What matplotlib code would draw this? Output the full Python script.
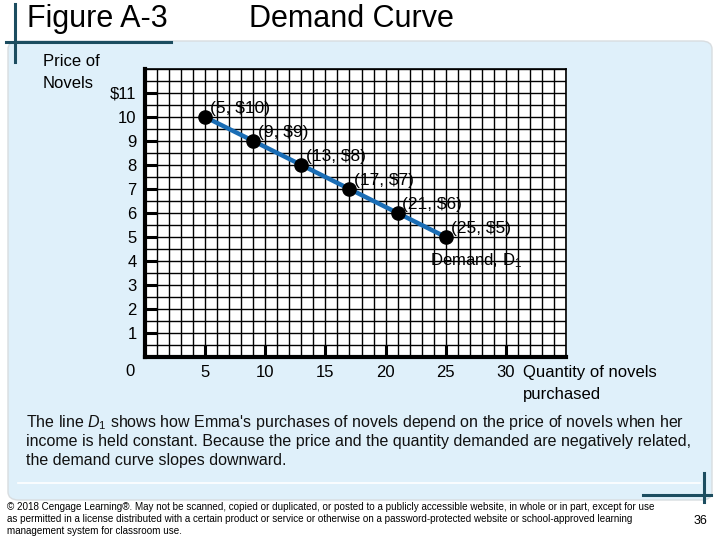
import numpy as np
import matplotlib.pyplot as plt
from matplotlib.patches import FancyBboxPatch
from matplotlib.lines import Line2D

plt.rcParams['font.family'] = ['Liberation Sans', 'DejaVu Sans']
plt.rcParams['mathtext.fontset'] = 'custom'
plt.rcParams['mathtext.rm'] = 'Liberation Sans'
plt.rcParams['mathtext.it'] = 'Liberation Sans:italic'

# data
quantity = [5, 9, 13, 17, 21, 25]
price = [10, 9, 8, 7, 6, 5]
point_labels = ['(5, $10)', '(9, $9)', '(13, $8)', '(17, $7)', '(21, $6)', '(25, $5)']
x_ticks = [5, 10, 15, 20, 25, 30]
y_ticks = [1, 2, 3, 4, 5, 6, 7, 8, 9, 10, 11]
y_ticklabels = ['1', '2', '3', '4', '5', '6', '7', '8', '9', '10', '$11']

W, H = 720, 540
fig = plt.figure(figsize=(7.2, 5.4), dpi=100)
fig.patch.set_facecolor('white')

def fx(px):
    return px / W

def fy(py):
    return 1 - py / H

# light blue panel
panel = FancyBboxPatch((fx(8), fy(500)), fx(704), fy(41) - fy(500),
                       boxstyle='round,pad=0,rounding_size=0.015',
                       transform=fig.transFigure, facecolor='#dff0fa',
                       edgecolor='#d8dde0', linewidth=1.0, zorder=-10)
fig.patches.append(panel)
fig.add_artist(Line2D([fx(18), fx(700)], [fy(483), fy(483)], color='white', lw=1.2, zorder=-5))

teal = '#1c4d60'
fig.add_artist(Line2D([fx(15), fx(15)], [fy(4), fy(62)], color=teal, lw=2.2))
fig.add_artist(Line2D([fx(6), fx(171)], [fy(42), fy(42)], color=teal, lw=2.2))
fig.add_artist(Line2D([fx(643), fx(711)], [fy(495), fy(495)], color=teal, lw=2.2))
fig.add_artist(Line2D([fx(704), fx(704)], [fy(473), fy(502)], color=teal, lw=2.2))

fig.text(fx(27), fy(19), 'Figure A-3', fontsize=22, va='center', ha='left')
fig.text(fx(351), fy(19), 'Demand Curve', fontsize=22, va='center', ha='center')

# chart axes
ax = fig.add_axes([fx(145), fy(357), fx(566) - fx(145), fy(69) - fy(357)], zorder=2)
ax.set_facecolor('white')
ax.set_xlim(0, 35)
ax.set_ylim(0, 12)
ax.set_xticks(np.arange(0, 36, 1), minor=True)
ax.set_yticks(np.arange(0, 12.5, 0.5), minor=True)
ax.set_xticks(x_ticks)
ax.set_xticklabels([str(t) for t in x_ticks], fontsize=12)
ax.set_yticks(y_ticks)
ax.set_yticklabels(y_ticklabels, fontsize=12)
ax.grid(which='both', color='black', linewidth=1.0)
ax.tick_params(which='minor', length=0)
ax.tick_params(which='major', direction='in', length=8.5, width=2.2)
ax.tick_params(axis='x', pad=6)
ax.tick_params(axis='y', pad=6)
for s in ['left', 'bottom']:
    ax.spines[s].set_linewidth(3)
for s in ['top', 'right']:
    ax.spines[s].set_linewidth(1.2)
ax.set_axisbelow(True)

ax.plot(quantity, price, color='#1a6db5', lw=3.2, zorder=3, clip_on=False)
ax.plot(quantity, price, 'o', color='black', ms=9.5, zorder=4, clip_on=False)
for q, p, lab in zip(quantity, price, point_labels):
    ax.annotate(lab, (q, p), xytext=(3.5, 1), textcoords='offset points',
                fontsize=12.5, ha='left', va='bottom', zorder=5)
ax.annotate(r'Demand, D$_{\mathrm{1}}$', (quantity[-1], price[-1]), xytext=(-11, -17),
            textcoords='offset points', fontsize=12, ha='left', va='center', zorder=5)

fig.text(fx(130), fy(372), '0', fontsize=12, ha='center', va='center')
fig.text(fx(43), fy(62), 'Price of', fontsize=12, ha='left', va='center')
fig.text(fx(43), fy(84), 'Novels', fontsize=12, ha='left', va='center')
fig.text(fx(523), fy(373), 'Quantity of novels', fontsize=12, ha='left', va='center')
fig.text(fx(523), fy(394), 'purchased', fontsize=12, ha='left', va='center')

caption = ['The line $D_1$ shows how Emma\'s purchases of novels depend on the price of novels when her',
           'income is held constant. Because the price and the quantity demanded are negatively related,',
           'the demand curve slopes downward.']
for i, line in enumerate(caption):
    fig.text(fx(26), fy(422 + 19.5 * i), line, fontsize=11.5, ha='left', va='center', color='#111111')

footer = ['\u00a9 2018 Cengage Learning\u00ae. May not be scanned, copied or duplicated, or posted to a publicly accessible website, in whole or in part, except for use',
          'as permitted in a license distributed with a certain product or service or otherwise on a password-protected website or school-approved learning',
          'management system for classroom use.']
for i, line in enumerate(footer):
    fig.text(fx(7), fy(507 + 12 * i), line, fontsize=7.1, ha='left', va='center')
fig.text(fx(700), fy(521), '36', fontsize=9, ha='center', va='center')

fig.savefig('out.png', dpi=100)
